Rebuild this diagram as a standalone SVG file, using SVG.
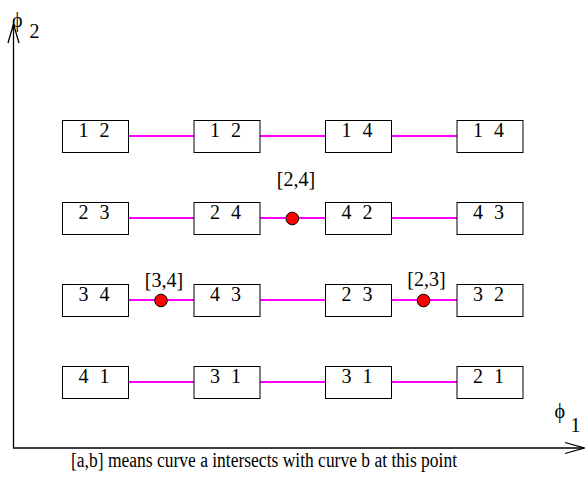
<svg xmlns="http://www.w3.org/2000/svg" width="585" height="501" viewBox="0 0 585 501" font-family="'Liberation Serif', 'Times New Roman', serif">
  <style>
    .box rect { fill: #fff; stroke: #000; stroke-width: 1; }
    text { font-family: 'Liberation Serif', 'Times New Roman', serif; fill: #000; font-size: 20px; }
    .lbl { text-anchor: middle; }
    .link { stroke: #ff00ff; stroke-width: 1.8; fill: none; }
    .axis { stroke: #000; stroke-width: 1.3; fill: none; }
    .dot { fill: #ff0000; stroke: #000; stroke-width: 1; }
  </style>
  <defs>
    <marker id="arrow" markerUnits="userSpaceOnUse" markerWidth="24" markerHeight="14" refX="20" refY="7" orient="auto" overflow="visible">
      <path d="M 1 1.5 L 20 7 L 1 12.5" fill="none" stroke="#000" stroke-width="1.3"/>
    </marker>
  </defs>

  <!-- axes -->
  <g id="axes">
    <path class="axis" d="M 13.5 448 L 13.5 24" marker-end="url(#arrow)"/>
    <path class="axis" d="M 13 448 L 584 448" marker-end="url(#arrow)"/>
    <text x="12" y="27">ϕ</text>
    <text x="29.4" y="37.5">2</text>
    <text x="554.5" y="417.5">ϕ</text>
    <text x="570.5" y="432">1</text>
  </g>

  <!-- connectors between neighbouring states -->
  <g id="connectors">
    <path class="link" d="M 128.5 136 H 194 M 260 136 H 325.5 M 391.5 136 H 457"/>
    <path class="link" d="M 128.5 218 H 194 M 260 218 H 325.5 M 391.5 218 H 457"/>
    <path class="link" d="M 128.5 300 H 194 M 260 300 H 325.5 M 391.5 300 H 457"/>
    <path class="link" d="M 128.5 382 H 194 M 260 382 H 325.5 M 391.5 382 H 457"/>
  </g>

  <!-- row 1 -->
  <g id="n11" class="box"><rect x="62.5" y="120.5" width="66" height="32"/><text y="137"><tspan x="78.5">1</tspan> <tspan x="99.5">2</tspan></text></g>
  <g id="n12" class="box"><rect x="194" y="120.5" width="66" height="32"/><text y="137"><tspan x="210">1</tspan> <tspan x="231">2</tspan></text></g>
  <g id="n13" class="box"><rect x="325.5" y="120.5" width="66" height="32"/><text y="137"><tspan x="341.5">1</tspan> <tspan x="362.5">4</tspan></text></g>
  <g id="n14" class="box"><rect x="457" y="120.5" width="66" height="32"/><text y="137"><tspan x="473">1</tspan> <tspan x="494">4</tspan></text></g>

  <!-- row 2 -->
  <g id="n21" class="box"><rect x="62.5" y="202.5" width="66" height="32"/><text y="219"><tspan x="78.5">2</tspan> <tspan x="99.5">3</tspan></text></g>
  <g id="n22" class="box"><rect x="194" y="202.5" width="66" height="32"/><text y="219"><tspan x="210">2</tspan> <tspan x="231">4</tspan></text></g>
  <g id="n23" class="box"><rect x="325.5" y="202.5" width="66" height="32"/><text y="219"><tspan x="341.5">4</tspan> <tspan x="362.5">2</tspan></text></g>
  <g id="n24" class="box"><rect x="457" y="202.5" width="66" height="32"/><text y="219"><tspan x="473">4</tspan> <tspan x="494">3</tspan></text></g>

  <!-- row 3 -->
  <g id="n31" class="box"><rect x="62.5" y="284.5" width="66" height="32"/><text y="301"><tspan x="78.5">3</tspan> <tspan x="99.5">4</tspan></text></g>
  <g id="n32" class="box"><rect x="194" y="284.5" width="66" height="32"/><text y="301"><tspan x="210">4</tspan> <tspan x="231">3</tspan></text></g>
  <g id="n33" class="box"><rect x="325.5" y="284.5" width="66" height="32"/><text y="301"><tspan x="341.5">2</tspan> <tspan x="362.5">3</tspan></text></g>
  <g id="n34" class="box"><rect x="457" y="284.5" width="66" height="32"/><text y="301"><tspan x="473">3</tspan> <tspan x="494">2</tspan></text></g>

  <!-- row 4 -->
  <g id="n41" class="box"><rect x="62.5" y="366.5" width="66" height="32"/><text y="383"><tspan x="78.5">4</tspan> <tspan x="99.5">1</tspan></text></g>
  <g id="n42" class="box"><rect x="194" y="366.5" width="66" height="32"/><text y="383"><tspan x="210">3</tspan> <tspan x="231">1</tspan></text></g>
  <g id="n43" class="box"><rect x="325.5" y="366.5" width="66" height="32"/><text y="383"><tspan x="341.5">3</tspan> <tspan x="362.5">1</tspan></text></g>
  <g id="n44" class="box"><rect x="457" y="366.5" width="66" height="32"/><text y="383"><tspan x="473">2</tspan> <tspan x="494">1</tspan></text></g>

  <!-- crossing points -->
  <g id="x24">
    <circle class="dot" cx="292.3" cy="218.5" r="6.3"/>
    <text class="lbl" x="296" y="186">[2,4]</text>
  </g>
  <g id="x34">
    <circle class="dot" cx="161" cy="300.5" r="6.3"/>
    <text class="lbl" x="164" y="286.5">[3,4]</text>
  </g>
  <g id="x23">
    <circle class="dot" cx="423.5" cy="300.5" r="6.3"/>
    <text class="lbl" x="426.5" y="286">[2,3]</text>
  </g>

  <text x="71" y="467" textLength="386" lengthAdjust="spacingAndGlyphs">[a,b] means curve a intersects with curve b at this point</text>
</svg>
